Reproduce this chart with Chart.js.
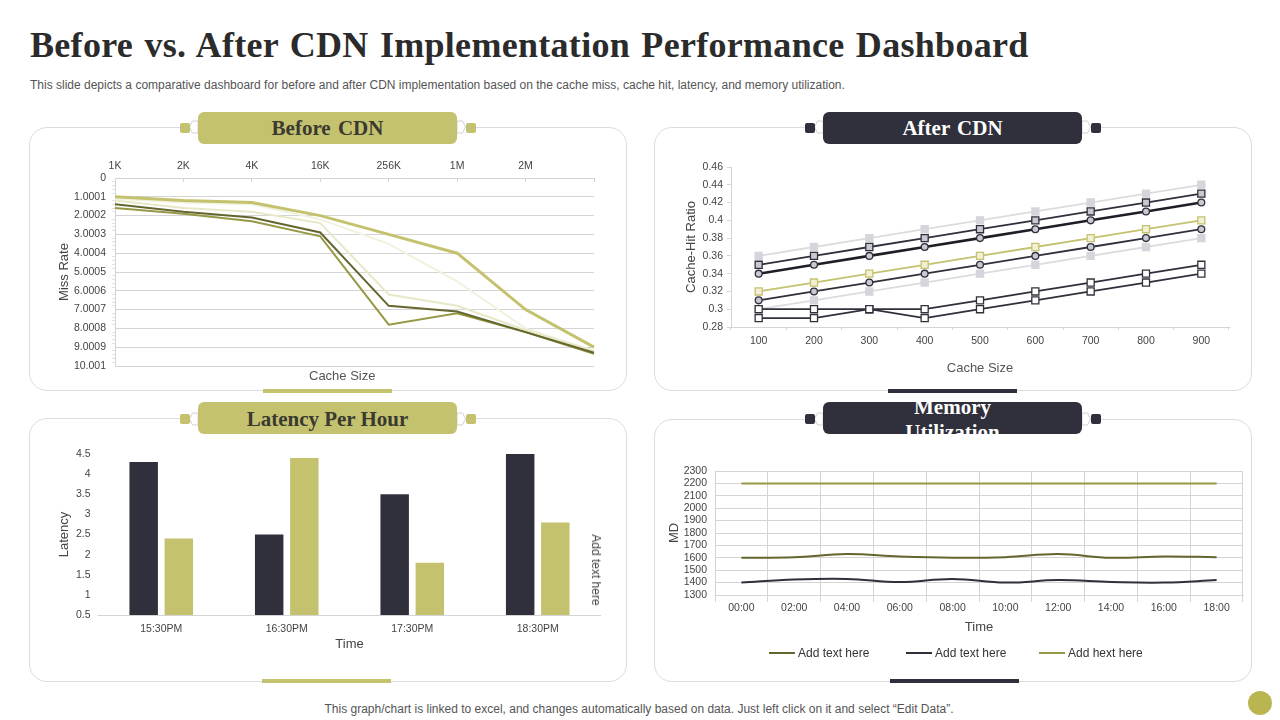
<!DOCTYPE html>
<html>
<head>
<meta charset="utf-8">
<title>Before vs. After CDN</title>
<script src="https://cdn.jsdelivr.net/npm/chart.js@4"></script>
<style>
  html, body { margin: 0; padding: 0; background: #fff; }
  body { position: relative; width: 1280px; height: 720px; overflow: hidden; font-family: "Liberation Sans", Arial, sans-serif; }
  .abs { position: absolute; }
  h1 { position: absolute; left: 30px; top: 24px; margin: 0; font: bold 36px "Liberation Serif", serif; color: #2b2b2b; letter-spacing: 0.3px; word-spacing: 2px; white-space: nowrap; }
  .sub { position: absolute; left: 30px; top: 78px; font-size: 12px; color: #555; white-space: nowrap; }
  .foot { position: absolute; left: 0; width: 1278px; top: 702px; text-align: center; font-size: 12px; color: #555; }
  .card { position: absolute; width: 598px; border: 1px solid #dcdcdc; border-radius: 18px; background: #fff; box-sizing: border-box; }
  .pill { position: absolute; width: 259px; height: 32px; border-radius: 6px; text-align: center; font: bold 21px/33px "Liberation Serif", serif; word-spacing: 2px; }
  .olive { background: #c5c26f; color: #3a3a30; }
  .dark { background: #2f303b; color: #fff; }
  .nub { position: absolute; width: 10px; height: 10px; border-radius: 2px; }
  .hex { position: absolute; width: 9px; height: 14px; }
  .hex.flip { transform: scaleX(-1); }
  .hex polygon { fill: #fff; stroke: #d0d0d0; stroke-width: 1; }
  .strip { position: absolute; width: 129px; height: 4px; }
  canvas { position: absolute; }
  .note { position: absolute; font-size: 13px; color: #444; white-space: nowrap; }
  .key { position: absolute; top: 646px; font-size: 12px; line-height: 14px; color: #333; white-space: nowrap; }
  .key i { position: absolute; top: 6px; height: 2px; width: 26px; }
</style>
</head>
<body>
<h1>Before vs. After CDN Implementation Performance Dashboard</h1>
<div class="sub">This slide depicts a comparative dashboard for before and after CDN implementation based on the cache miss, cache hit, latency, and memory utilization.</div>

<div class="card" style="left:29px;top:127px;height:264px"></div>
<div class="card" style="left:654px;top:127px;height:264px"></div>
<div class="card" style="left:29px;top:418px;height:264px"></div>
<div class="card" style="left:654px;top:419px;height:263px"></div>

<svg class="hex" style="left:189px;top:120px"><polygon points="0.5,7 3.5,1 9,1 9,13 3.5,13"/></svg>
<svg class="hex flip" style="left:457px;top:120px"><polygon points="0.5,7 3.5,1 9,1 9,13 3.5,13"/></svg>
<div class="nub olive" style="left:180px;top:123px"></div><div class="nub olive" style="left:466px;top:123px"></div>
<div class="pill olive" style="left:198px;top:112px">Before CDN</div>

<svg class="hex" style="left:814px;top:120px"><polygon points="0.5,7 3.5,1 9,1 9,13 3.5,13"/></svg>
<svg class="hex flip" style="left:1082px;top:120px"><polygon points="0.5,7 3.5,1 9,1 9,13 3.5,13"/></svg>
<div class="nub dark" style="left:805px;top:123px"></div><div class="nub dark" style="left:1091px;top:123px"></div>
<div class="pill dark" style="left:823px;top:112px">After CDN</div>

<svg class="hex" style="left:189px;top:412px"><polygon points="0.5,7 3.5,1 9,1 9,13 3.5,13"/></svg>
<svg class="hex flip" style="left:457px;top:412px"><polygon points="0.5,7 3.5,1 9,1 9,13 3.5,13"/></svg>
<div class="nub olive" style="left:180px;top:414px"></div><div class="nub olive" style="left:466px;top:414px"></div>
<div class="pill olive" style="left:198px;top:402px;line-height:35px;word-spacing:0">Latency Per Hour</div>

<svg class="hex" style="left:814px;top:412px"><polygon points="0.5,7 3.5,1 9,1 9,13 3.5,13"/></svg>
<svg class="hex flip" style="left:1082px;top:412px"><polygon points="0.5,7 3.5,1 9,1 9,13 3.5,13"/></svg>
<div class="nub dark" style="left:805px;top:414px"></div><div class="nub dark" style="left:1091px;top:414px"></div>
<div class="pill dark" style="left:823px;top:402px;overflow:hidden"><div style="width:120px;margin:-7px auto 0;line-height:25px">Memory Utilization</div></div>

<div class="strip olive" style="left:263px;top:389px"></div>
<div class="strip dark" style="left:888px;top:389px"></div>
<div class="strip olive" style="left:262px;top:679px"></div>
<div class="strip dark" style="left:890px;top:679px"></div>

<canvas id="missChart" width="597" height="263" style="left:29px;top:127px"></canvas>
<canvas id="hitChart" width="597" height="263" style="left:654px;top:127px"></canvas>
<canvas id="latencyChart" width="597" height="264" style="left:29px;top:418px"></canvas>
<canvas id="memoryChart" width="597" height="264" style="left:654px;top:418px"></canvas>

<div class="note" style="left:309px;top:368px;color:#555">Cache Size</div>
<div class="note" style="left:596px;top:570px;transform:translate(-50%,-50%) rotate(90deg);font-size:12px">Add text here</div>
<div id="memoryLegend"></div>

<div class="foot">This graph/chart is linked to excel, and changes automatically based on data. Just left click on it and select “Edit Data”.</div>
<div class="abs" style="left:1248px;top:691px;width:24px;height:24px;border-radius:50%;background:#b9b550"></div>

<script>
// Before CDN
const cacheSizes = ['1K', '2K', '4K', '16K', '256K', '1M', '2M', ''];
const missTickLabels = ['0', '1.0001', '2.0002', '3.0003', '4.0004', '5.0005', '6.0006', '7.0007', '8.0008', '9.0009', '10.001'];
const missThick = [1.0, 1.2, 1.3, 2.0, 3.0, 4.0, 7.0, 9.0];
const missPale = [1.2, 1.6, 1.8, 2.4, 6.2, 6.8, 8.1, 9.2];
const missPaler = [1.1, 1.3, 1.4, 2.2, 3.5, 5.5, 8.0, 9.2];
const missDark = [1.4, 1.8, 2.1, 2.9, 6.8, 7.1, 8.2, 9.3];
const missOlive = [1.6, 1.9, 2.3, 3.1, 7.8, 7.2, 8.2, 9.35];

// After CDN
const hitSizes = ['100', '200', '300', '400', '500', '600', '700', '800', '900'];
const hitA = [0.36, 0.37, 0.38, 0.39, 0.40, 0.41, 0.42, 0.43, 0.44];
const hitB = [0.35, 0.36, 0.37, 0.38, 0.39, 0.40, 0.41, 0.42, 0.43];
const hitC = [0.34, 0.35, 0.36, 0.37, 0.38, 0.39, 0.40, 0.41, 0.42];
const hitD = [0.32, 0.33, 0.34, 0.35, 0.36, 0.37, 0.38, 0.39, 0.40];
const hitE = [0.31, 0.32, 0.33, 0.34, 0.35, 0.36, 0.37, 0.38, 0.39];
const hitF = [0.30, 0.31, 0.32, 0.33, 0.34, 0.35, 0.36, 0.37, 0.38];
const hitG = [0.30, 0.30, 0.30, 0.30, 0.31, 0.32, 0.33, 0.34, 0.35];
const hitH = [0.29, 0.29, 0.30, 0.29, 0.30, 0.31, 0.32, 0.33, 0.34];

// Latency per hour
const hours = ['15:30PM', '16:30PM', '17:30PM', '18:30PM'];
const latencyDark = [4.3, 2.5, 3.5, 4.5];
const latencyOlive = [2.4, 4.4, 1.8, 2.8];

// Memory utilization
const times = ['00:00', '02:00', '04:00', '06:00', '08:00', '10:00', '12:00', '14:00', '16:00', '18:00'];
const memoryA = [1600, 1605, 1630, 1610, 1600, 1605, 1630, 1600, 1610, 1605];
const memoryB = [1400, 1425, 1430, 1405, 1430, 1400, 1420, 1405, 1400, 1420];
const memoryC = [2200, 2200, 2200, 2200, 2200, 2200, 2200, 2200, 2200, 2200];
const memoryNames = ['Add text here', 'Add text here', 'Add hext here'];

const DARK = '#2f303b';
const OLIVE = '#c5c26f';
const GRID = '#d4d4d4';
const TICK = '#444';

Chart.defaults.font.family = '"Liberation Sans", Arial, sans-serif';
Chart.defaults.font.size = 10.5;
Chart.defaults.color = TICK;
Chart.defaults.animation = false;
Chart.defaults.responsive = false;
Chart.defaults.plugins.legend.display = false;
Chart.defaults.plugins.tooltip.enabled = false;

const fixWidth = w => scale => { scale.width = w; };
const fixHeight = h => scale => { scale.height = h; };
const trimNum = v => +v.toFixed(2);
const axisTitle = (text, color) => ({ display: true, text: text, color: color || '#444', font: { size: 13 }, padding: 0 });

// dataset helper for the plain lines
function line(label, data, color, width) {
    return { label: label, data: data, borderColor: color, borderWidth: width, pointRadius: 0, tension: 0, fill: false };
}

// After CDN markers
function marked(label, data, color, width, style, fill, edge) {
    return {
        label: label, data: data, borderColor: color, borderWidth: width, tension: 0,
        pointStyle: style, pointRadius: style === 'circle' ? 3.4 : 5,
        pointBackgroundColor: fill, pointBorderColor: edge, pointBorderWidth: 1.3
    };
}

new Chart(document.getElementById('missChart'), {
    type: 'line',
    data: {
        labels: cacheSizes,
        datasets: [
            line('Thick', missThick, OLIVE, 3),
            line('Dark', missDark, '#65662f', 2),
            line('Olive', missOlive, '#969845', 2),
            line('Pale', missPale, '#e8e8c8', 2),
            line('Paler', missPaler, '#f1f1e0', 2)
        ]
    },
    options: {
        layout: { padding: { left: 28, right: 32, top: 27, bottom: 24 } },
        scales: {
            x: {
                position: 'top',
                afterFit: fixHeight(24),
                grid: { color: GRID, drawOnChartArea: false, tickLength: -4, tickColor: GRID },
                border: { color: GRID },
                ticks: { maxRotation: 0, autoSkip: false, padding: 10 }
            },
            y: {
                reverse: true,
                min: 0,
                max: 10.001,
                afterFit: fixWidth(58),
                afterBuildTicks: scale => {
                    const list = [];
                    for (let i = 0; i <= 50; i++) list.push({ value: i * 10.001 / 50 });
                    scale.ticks = list;
                },
                title: axisTitle('Miss Rate'),
                grid: {
                    color: c => c.index % 5 === 0 ? GRID : 'transparent',
                    tickColor: c => c.index % 5 === 0 ? 'transparent' : '#e4e4e4',
                    tickLength: 3
                },
                border: { color: GRID },
                ticks: {
                    autoSkip: false,
                    padding: 6,
                    callback: (v, i) => i % 5 === 0 ? missTickLabels[i / 5] : ''
                }
            }
        }
    }
});

new Chart(document.getElementById('hitChart'), {
    type: 'line',
    data: {
        labels: hitSizes,
        datasets: [
            marked('H', hitH, DARK, 1.8, 'rect', '#fff', DARK),
            marked('G', hitG, DARK, 1.8, 'rect', '#fff', DARK),
            marked('C', hitC, '#1e1e26', 2.6, 'circle', '#c9c9d2', DARK),
            marked('E', hitE, DARK, 1.8, 'circle', '#c9c9d2', DARK),
            marked('B', hitB, DARK, 1.8, 'rect', '#c9c9d2', DARK),
            marked('D', hitD, OLIVE, 1.8, 'rect', '#f1f0d4', OLIVE),
            marked('A', hitA, '#dcdce0', 1.8, 'rect', '#d5d5dc', '#d5d5dc'),
            marked('F', hitF, '#dcdce0', 1.8, 'rect', '#d5d5dc', '#d5d5dc')
        ]
    },
    options: {
        layout: { padding: { left: 30, right: 22, top: 40, bottom: 14 } },
        scales: {
            x: {
                offset: true,
                afterFit: fixHeight(49),
                title: axisTitle('Cache Size', '#555'),
                grid: { offset: true, drawOnChartArea: false, color: GRID, tickLength: 3 },
                border: { color: GRID },
                ticks: { maxRotation: 0, padding: 5 }
            },
            y: {
                min: 0.28,
                max: 0.46,
                afterFit: fixWidth(47),
                title: axisTitle('Cache-Hit Ratio'),
                grid: { drawOnChartArea: false, color: GRID, tickLength: 4 },
                border: { color: GRID },
                ticks: { stepSize: 0.02, padding: 4, callback: trimNum }
            }
        }
    }
});

new Chart(document.getElementById('latencyChart'), {
    type: 'bar',
    data: {
        labels: hours,
        datasets: [
            { label: 'Before', data: latencyDark, backgroundColor: DARK, categoryPercentage: 0.56, barPercentage: 0.81 },
            { label: 'After', data: latencyOlive, backgroundColor: OLIVE, categoryPercentage: 0.56, barPercentage: 0.81 }
        ]
    },
    options: {
        layout: { padding: { left: 28, right: 25.5, top: 36, bottom: 30 } },
        scales: {
            x: {
                afterFit: fixHeight(37),
                title: axisTitle('Time'),
                grid: { display: true, drawOnChartArea: false, drawTicks: false, color: GRID },
                border: { color: GRID },
                ticks: { maxRotation: 0, padding: 8 }
            },
            y: {
                min: 0.5,
                max: 4.5,
                afterFit: fixWidth(41.5),
                title: axisTitle('Latency'),
                grid: { display: false },
                border: { display: false },
                ticks: { stepSize: 0.5, padding: 0, callback: trimNum }
            }
        }
    }
});

const memoryColors = ['#65662f', DARK, '#969845'];

new Chart(document.getElementById('memoryChart'), {
    type: 'line',
    data: {
        labels: times,
        datasets: [
            Object.assign(line(memoryNames[0], memoryA, memoryColors[0], 2), { tension: 0.4 }),
            Object.assign(line(memoryNames[1], memoryB, memoryColors[1], 2), { tension: 0.4 }),
            line(memoryNames[2], memoryC, memoryColors[2], 2)
        ]
    },
    options: {
        layout: { padding: { left: 13, right: 8, top: 53, bottom: 47 } },
        scales: {
            x: {
                offset: true,
                afterFit: fixHeight(40),
                title: axisTitle('Time'),
                grid: { offset: true, color: GRID, tickLength: 7, tickColor: GRID },
                border: { color: GRID },
                ticks: { maxRotation: 0, autoSkip: false, padding: 0 }
            },
            y: {
                min: 1300,
                max: 2300,
                afterFit: fixWidth(48),
                title: axisTitle('MD'),
                grid: { color: GRID, drawTicks: false },
                border: { color: GRID },
                ticks: { stepSize: 100, autoSkip: false, padding: 8, callback: v => String(v) }
            }
        }
    }
});

// legend under the memory chart, same names and colours as the datasets
const legendStarts = [769, 906, 1039];
memoryNames.forEach((name, i) => {
    const key = document.createElement('div');
    key.className = 'key';
    key.style.left = legendStarts[i] + 'px';
    key.style.paddingLeft = '29px';
    key.textContent = name;
    const swatch = document.createElement('i');
    swatch.style.left = '0';
    swatch.style.background = memoryColors[i];
    key.appendChild(swatch);
    document.getElementById('memoryLegend').appendChild(key);
});
</script>
</body>
</html>
